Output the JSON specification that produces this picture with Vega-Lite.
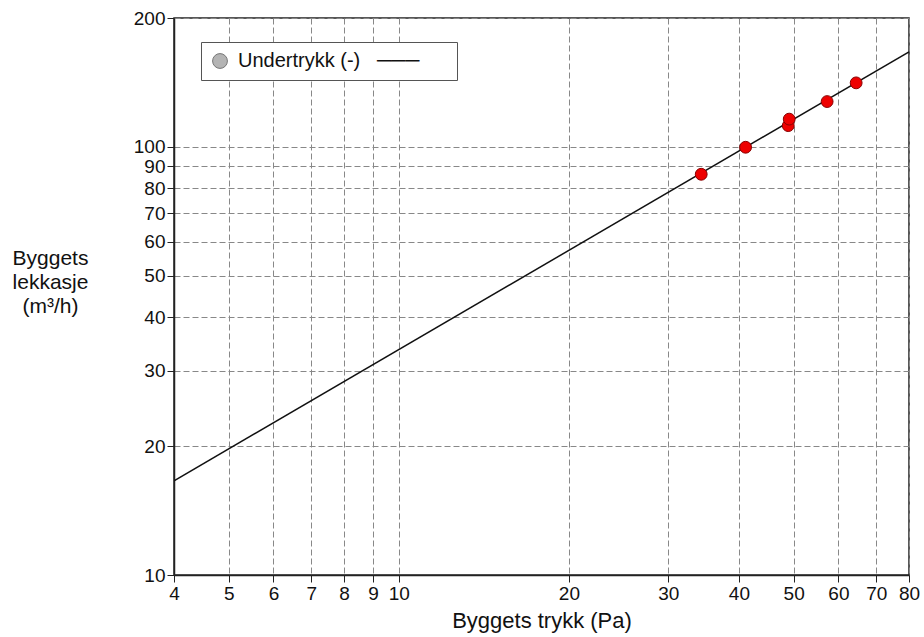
{
  "$schema": "https://vega.github.io/schema/vega-lite/v6.json",
  "width": 735,
  "height": 557,
  "autosize": {"type": "none"},
  "padding": {"left": 174, "top": 18, "right": 15, "bottom": 62},
  "background": "white",
  "config": {
    "font": "Liberation Sans",
    "view": {"stroke": "#222", "strokeWidth": 1.5},
    "axis": {
      "gridColor": "#888",
      "gridDash": [6, 3],
      "gridWidth": 1,
      "gridOpacity": 1,
      "domainColor": "#222",
      "domainWidth": 1.5,
      "tickColor": "#222",
      "tickSize": 7,
      "labelColor": "#111",
      "titleColor": "#111",
      "labelFont": "Liberation Sans",
      "titleFont": "Liberation Sans",
      "labelFontSize": 19,
      "titleFontSize": 21,
      "titleFontWeight": "normal"
    }
  },
  "layer": [
    {
      "data": {"values": [{"p": 4, "q": 16.6}, {"p": 80, "q": 166.7}]},
      "mark": {"type": "line", "color": "#111", "strokeWidth": 1.5, "clip": true},
      "encoding": {
        "x": {
          "field": "p", "type": "quantitative",
          "scale": {"type": "log", "domain": [4, 80], "nice": false},
          "axis": {
            "values": [4, 5, 6, 7, 8, 9, 10, 20, 30, 40, 50, 60, 70, 80],
            "title": "Byggets trykk (Pa)",
            "titleFontSize": 22,
            "titlePadding": 7,
            "labelPadding": 2,
            "labelFlush": false,
            "labelOverlap": false
          }
        },
        "y": {
          "field": "q", "type": "quantitative",
          "scale": {"type": "log", "domain": [10, 200], "nice": false},
          "axis": {
            "values": [10, 20, 30, 40, 50, 60, 70, 80, 90, 100, 200],
            "title": ["Byggets", "lekkasje", "(m³/h)"],
            "titleAngle": 0,
            "titleAlign": "center",
            "titleBaseline": "middle",
            "titleX": -124,
            "titleY": 240,
            "titleLineHeight": 24,
            "labelPadding": 2,
            "labelFlush": false,
            "labelOverlap": false
          }
        }
      }
    },
    {
      "data": {"values": [
        {"p": 34.3, "q": 86.3},
        {"p": 41.1, "q": 99.8},
        {"p": 48.9, "q": 112.1},
        {"p": 49.1, "q": 116.1},
        {"p": 57.3, "q": 127.6},
        {"p": 64.5, "q": 141.1}
      ]},
      "mark": {"type": "point", "shape": "circle", "filled": true, "fill": "#ee0000", "stroke": "#880000", "strokeWidth": 1, "size": 140, "opacity": 1},
      "encoding": {
        "x": {"field": "p", "type": "quantitative"},
        "y": {"field": "q", "type": "quantitative"}
      }
    },
    {
      "data": {"values": [{"p": 1, "q": 1, "s": "Undertrykk (-)"}]},
      "mark": {"type": "point", "filled": true, "fill": "#b4b4b4", "stroke": "#777", "strokeWidth": 1, "size": 220, "opacity": 1, "clip": true},
      "encoding": {
        "x": {"field": "p", "type": "quantitative"},
        "y": {"field": "q", "type": "quantitative"},
        "shape": {
          "field": "s", "type": "nominal",
          "scale": {"range": ["circle"]},
          "legend": {
            "title": null,
            "orient": "none",
            "legendX": 27,
            "legendY": 24,
            "strokeColor": "#555",
            "fillColor": "white",
            "padding": 9,
            "symbolSize": 220,
            "symbolStrokeWidth": 1,
            "labelFontSize": 20,
            "labelFont": "Liberation Sans",
            "labelColor": "#111",
            "labelOffset": 8,
            "labelLimit": 400,
            "labelExpr": "datum.label + '\u00a0\u00a0\u00a0───\u00a0\u00a0\u00a0\u00a0\u00a0\u200b'"
          }
        }
      }
    }
  ]
}
